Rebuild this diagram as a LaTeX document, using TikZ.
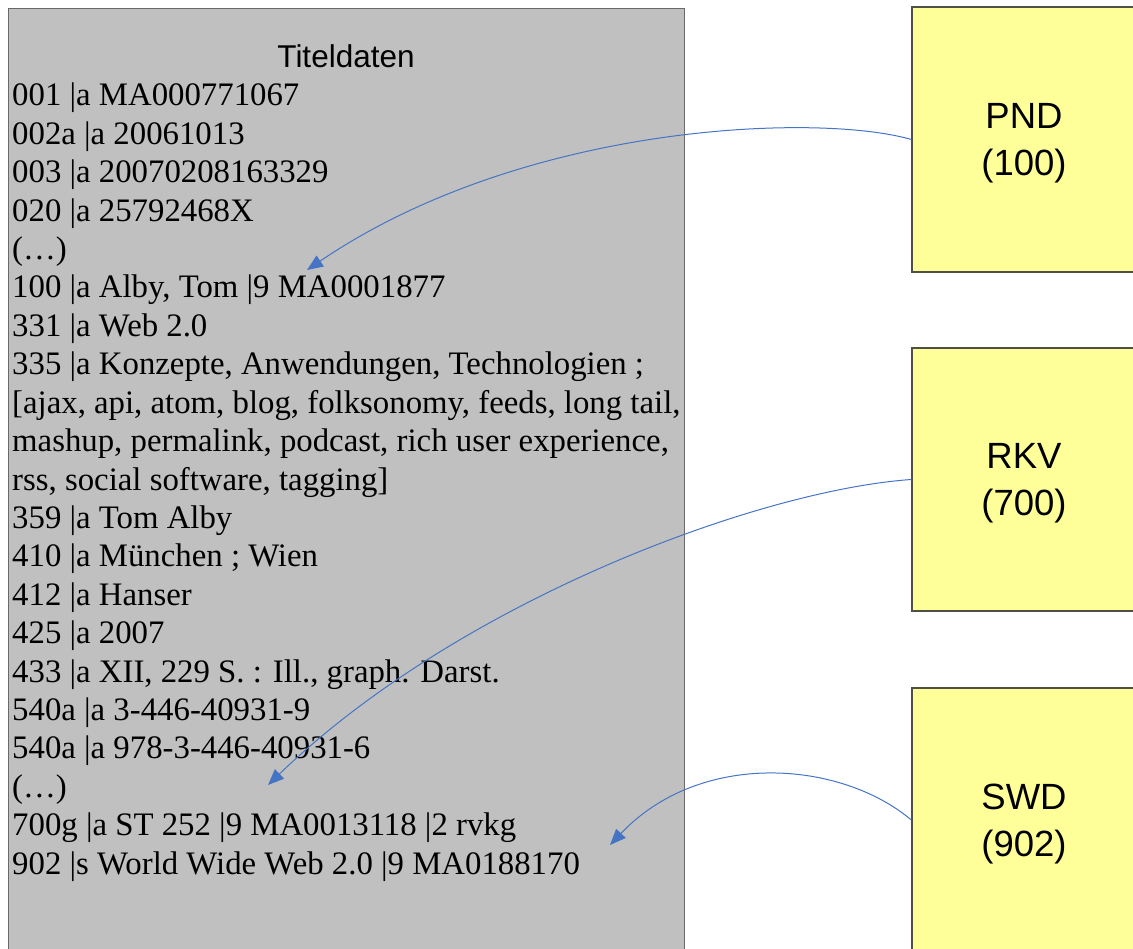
\documentclass[tikz,border=0pt]{standalone}
\usepackage{fontspec}
\setmainfont{Liberation Serif}
\newfontfamily\arialfont{Liberation Sans}
\usetikzlibrary{arrows.meta}
\definecolor{boxgray}{RGB}{192,192,192}
\definecolor{edgegray}{RGB}{105,105,105}
\definecolor{noteyellow}{RGB}{255,255,153}
\definecolor{noteedge}{RGB}{80,80,70}
\definecolor{linkblue}{RGB}{70,116,196}
\begin{document}
\begin{tikzpicture}[x=1pt,y=-1pt,
  record/.style={draw=edgegray, fill=boxgray, line width=1.3pt,
    minimum width=676pt, minimum height=960pt, inner sep=0pt, anchor=north west},
  authority/.style={draw=noteedge, fill=noteyellow, line width=1.3pt,
    minimum width=224pt, inner sep=0pt},
  authlabel/.style={inner sep=0pt, align=center,
    font=\arialfont\fontsize{36.5}{47}\selectfont},
  heading/.style={anchor=base, inner sep=0pt, font=\arialfont\fontsize{31.5}{37}\selectfont},
  field/.style={anchor=base west, inner sep=0pt, font=\fontsize{32.8}{38}\selectfont},
  link/.style={draw=linkblue, line width=1pt, -{Triangle[length=16pt,width=13pt]}}
]
\useasboundingbox (0,0) rectangle (1133,949);
\clip (0,0) rectangle (1133,949);

% catalogue record
\node[record] (rec) at (8,8) {};
\node[heading] (title) at (346,68) {Titeldaten};
\foreach \txt [count=\i] in {
  {001 |a MA000771067},
  {002a |a 20061013},
  {003 |a 20070208163329},
  {020 |a 25792468X},
  {(…)},
  {100 |a Alby, Tom |9 MA0001877},
  {331 |a Web 2.0},
  {335 |a Konzepte, Anwendungen, Technologien ;},
  {[ajax, api, atom, blog, folksonomy, feeds, long tail,},
  {mashup, permalink, podcast, rich user experience,},
  {rss, social software, tagging]},
  {359 |a Tom Alby},
  {410 |a München ; Wien},
  {412 |a Hanser},
  {425 |a 2007},
  {433 |a XII, 229 S. : Ill., graph. Darst.},
  {540a |a 3-446-40931-9},
  {540a |a 978-3-446-40931-6},
  {(…)},
  {700g |a ST 252 |9 MA0013118 |2 rvkg},
  {902 |s World Wide Web 2.0 |9 MA0188170}}
  \node[field, name=f\i] at (12,{106+38.4*(\i-1)}) {\txt};

% authority files
\node[authority, minimum height=265pt] (pnd) at (1024,139.5) {};
\node[authority, minimum height=263pt] (rkv) at (1024,479.5) {};
\node[authority, minimum height=264pt] (swd) at (1024,820) {};
\node[authlabel] (pndtext) at ([yshift=-4pt]pnd.center) {PND\\(100)};
\node[authlabel] (rkvtext) at ([yshift=-4pt]rkv.center) {RKV\\(700)};
\node[authlabel] (swdtext) at ([yshift=-4pt]swd.center) {SWD\\(902)};

% link targets inside the record
\coordinate (t1) at (307,270);
\coordinate (t2) at (268,785);
\coordinate (t3) at (610,845);

\draw[link] (pnd.west) .. controls (820,113) and (525,122) .. (t1);
\draw[link] (rkv.west) .. controls (760,490) and (460,600) .. (t2);
\draw[link] (swd.west) .. controls (840,760) and (700,750) .. (t3);
\end{tikzpicture}
\end{document}
